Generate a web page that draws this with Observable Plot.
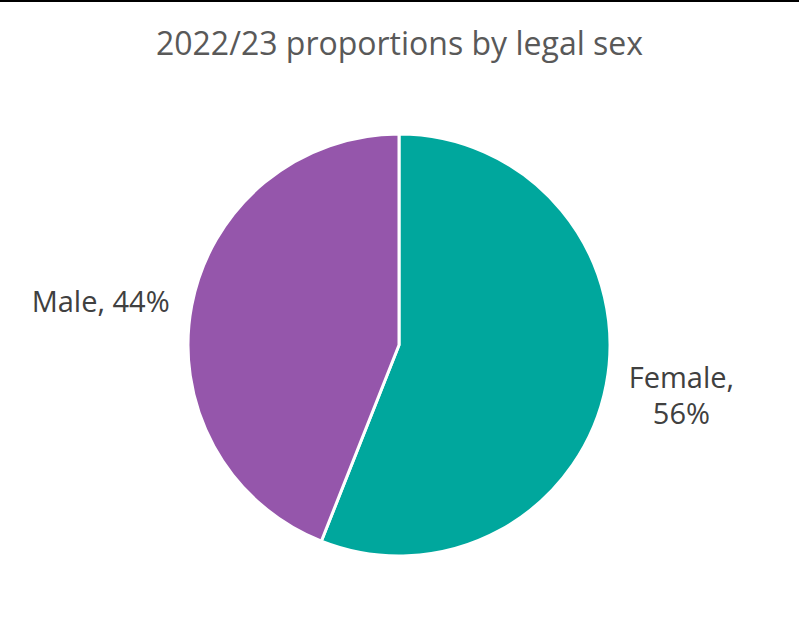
<!DOCTYPE html>
<html><head><meta charset="utf-8">
<script src="https://cdn.jsdelivr.net/npm/d3@7"></script>
<script src="https://cdn.jsdelivr.net/npm/@observablehq/plot@0.6"></script>
<style>
html,body{margin:0;padding:0;background:#fff;}
#wrap{width:799px;height:618px;border-top:2px solid #000;font-family:"Open Sans",sans-serif;}
#title{height:90px;box-sizing:border-box;padding-top:21px;text-align:center;font-size:32px;line-height:40px;color:#595959;}
#chart svg{display:block;}
</style></head>
<body>
<div id="wrap"><div id="title">2022/23 proportions by legal sex</div><div id="chart"></div></div>
<script>
const categories = ["Female", "Male"];
const values = [56, 44];
const sliceColors = ["#00A79D", "#9556AB"];
const labelBreak = [true, false];

const data = categories.map((c, i) => ({category: c, value: values[i], color: sliceColors[i], br: labelBreak[i]}));
const arcs = d3.pie().sort(null).value(d => d.value)(data);
const mid = a => (a.startAngle + a.endAngle) / 2;
const labelR = 1.36;
const labelText = d => `${d.data.category},${d.data.br ? "\n" : " "}${d.data.value}%`;
const rightSide = arcs.filter(d => mid(d) < Math.PI);
const leftSide = arcs.filter(d => mid(d) >= Math.PI);
const textOpts = {
  x: d => labelR * Math.sin(mid(d)),
  y: d => labelR * Math.cos(mid(d)),
  text: labelText,
  fontSize: 29,
  lineHeight: 1.24,
  fill: "#404040"
};

const cx = 399, cy = 253, R = 211;
const plot = Plot.plot({
  width: 799,
  height: 528,
  margin: 0,
  x: {domain: [-1, 1], range: [cx - R, cx + R], axis: null},
  y: {domain: [-1, 1], range: [cy + R, cy - R], axis: null},
  style: {fontFamily: '"Open Sans", sans-serif', background: "white"},
  marks: [
    (index, scales) => {
      const x0 = scales.x(0), y0 = scales.y(0), r = scales.x(1) - x0;
      const g = d3.create("svg:g").attr("transform", `translate(${x0},${y0})`);
      g.selectAll("path").data(arcs).join("path")
        .attr("d", d3.arc().innerRadius(0).outerRadius(r))
        .attr("fill", d => d.data.color)
        .attr("stroke", "white")
        .attr("stroke-width", 3)
        .attr("stroke-linejoin", "round");
      return g.node();
    },
    Plot.text(rightSide, {...textOpts, dy: -5}),
    Plot.text(leftSide, {...textOpts, dx: -17, dy: 9})
  ]
});
document.getElementById("chart").appendChild(plot);
</script>
</body></html>
